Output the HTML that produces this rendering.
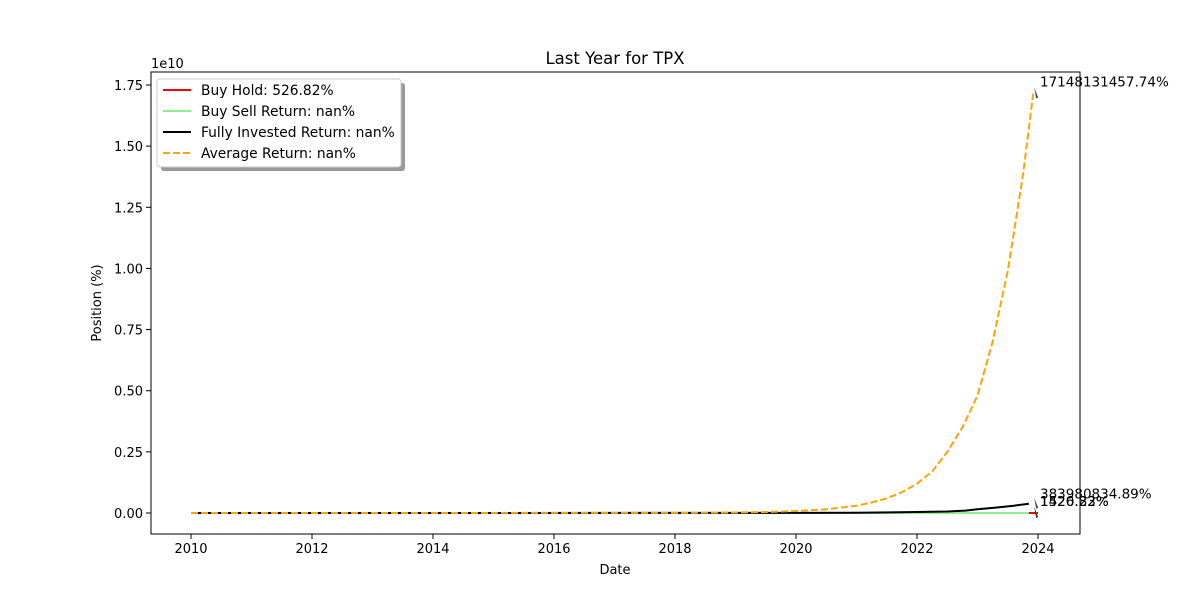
<!DOCTYPE html>
<html><head><meta charset="utf-8"><style>
body{margin:0;background:#fff;font-family:"DejaVu Sans","Liberation Sans",sans-serif}
svg text{font-family:"DejaVu Sans","Liberation Sans",sans-serif;fill:#000}
</style></head><body>
<svg id="c" width="1200" height="600" xmlns="http://www.w3.org/2000/svg"></svg>
<script>
const avgYears=[2010,2018,2019,2019.5,2020,2020.5,2021,2021.25,2021.5,2021.75,2022,2022.25,2022.5,2022.75,2023,2023.25,2023.5,2023.75,2023.92];
const avgVals=[0,0.0005,0.002,0.004,0.008,0.015,0.03,0.043,0.06,0.085,0.12,0.17,0.25,0.35,0.48,0.70,0.99,1.38,1.715];
const fullYears=[2010,2020,2021,2022,2022.5,2022.8,2023,2023.3,2023.6,2023.85];
const fullVals=[0,0.0003,0.001,0.004,0.006,0.01,0.015,0.022,0.03,0.038];
const sellYears=[2010,2023.85];
const sellVals=[0,0];
const holdYears=[2023.85,2024];
const holdVals=[0,0];
const xTicks=[2010,2012,2014,2016,2018,2020,2022,2024];
const yTicks=[0,0.25,0.5,0.75,1.0,1.25,1.5,1.75];
const legendLabels=["Buy Hold: 526.82%","Buy Sell Return: nan%","Fully Invested Return: nan%","Average Return: nan%"];
const NS="http://www.w3.org/2000/svg";
const svg=document.getElementById('c');
const L=151,R=1080,T=72,B=534;
const X=v=>191+(v-2010)*(1038-191)/14;
const Y=v=>513-v*(513-85)/1.75;
function mk(tag,attrs,parent){const e=document.createElementNS(NS,tag);for(const k in attrs)e.setAttribute(k,attrs[k]);(parent||svg).appendChild(e);return e;}
function txt(s,x,y,attrs){const e=mk('text',Object.assign({x:x,y:y,'font-size':13},attrs||{}));e.textContent=s;return e;}
let t=txt("Last Year for TPX",615,64,{'text-anchor':'middle','font-size':16.5});

t=txt("1e10",151,68);
t=txt("Date",615,574,{'text-anchor':'middle'});
t=txt("Position (%)",101,303,{'text-anchor':'middle',transform:'rotate(-90 101 303)'});
xTicks.forEach(v=>{const g=mk('g',{});
mk('line',{x1:X(v),x2:X(v),y1:B,y2:B+5,stroke:'#000'},g);const e=txt(String(v),X(v),B+19,{'text-anchor':'middle'});g.appendChild(e);});
yTicks.forEach(v=>{const g=mk('g',{});
mk('line',{x1:L-5,x2:L,y1:Y(v),y2:Y(v),stroke:'#000'},g);const e=txt(v.toFixed(2),L-8,Y(v)+5,{'text-anchor':'end'});g.appendChild(e);});
function line(xs,ys,color,name,extra){const p=xs.map((x,i)=>X(x).toFixed(1)+','+Y(ys[i]).toFixed(1)).join(' ');
const e=mk('polyline',Object.assign({points:p,fill:'none',stroke:color,'stroke-width':2,'stroke-linejoin':'round'},extra||{}));
}
line(sellYears,sellVals,'#90ee90','buy-sell-line');
line(holdYears,holdVals,'#ff0000','buy-hold-line');
line(fullYears,fullVals,'#000','fully-invested-line');
line(avgYears,avgVals,'#ffa500','average-return-line',{'stroke-dasharray':'7,3'});
const fr=mk('rect',{x:L,y:T,width:R-L,height:B-T,fill:'none',stroke:'#000','stroke-width':1});

function ann(s,yv,dy,name){const g=mk('g',{});
const x=X(2023.97),y=Y(yv);mk('path',{d:`M${x-2},${y-6} L${x+2},${y+4} L${x},${y+5} Z`,fill:'#444'},g);
g.appendChild(txt(s,1040,y+dy,{'font-size':13.5}));}
ann("17148131457.74%",1.715,-7,'average-annotation');
ann("383980834.89%",0.038,-5,'fully-invested-annotation');
ann("1526.82%",0,-7,'buy-hold-annotation');
ann("1420.23%",0,-7,'buy-sell-annotation');
const lg=mk('g',{});
mk('rect',{x:161,y:83,width:244,height:88,rx:3,fill:'#999'},lg);
mk('rect',{x:157,y:79,width:244,height:88,rx:3,fill:'#fff',stroke:'#ccc'},lg);
const lc=['#ff0000','#90ee90','#000','#ffa500'];
legendLabels.forEach((s,i)=>{const g=mk('g',{},lg);
const y=90+i*21;mk('line',{x1:163,x2:191,y1:y,y2:y,stroke:lc[i],'stroke-width':2,'stroke-dasharray':i==3?'7,3':'none'},g);
g.appendChild(txt(s,201,y+5,{'font-size':13.8}));});
</script>
</body></html>
